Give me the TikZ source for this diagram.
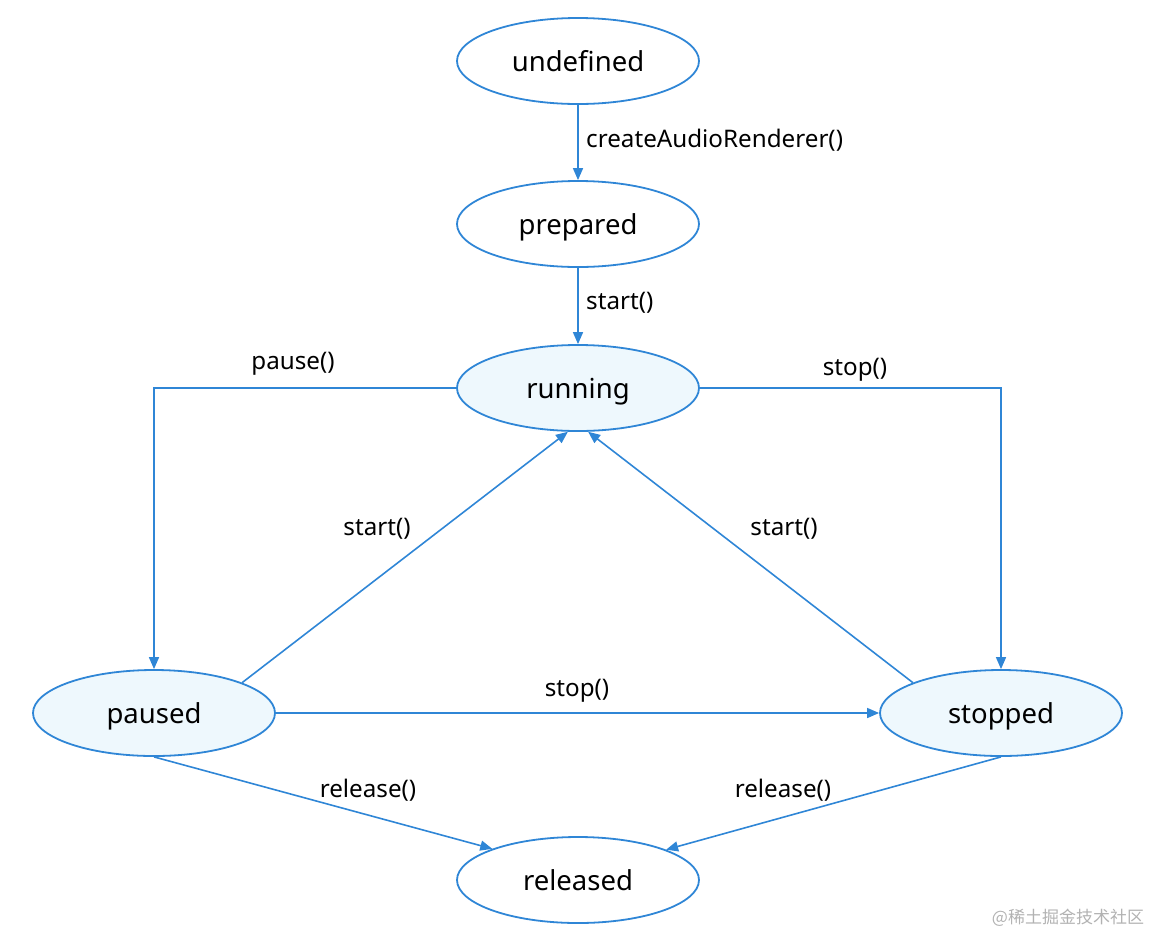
\documentclass[tikz,border=0pt]{standalone}
\usepackage{fontspec}
\setmainfont{Noto Sans}
\newfontfamily\cjk{Noto Sans CJK SC}
\usetikzlibrary{arrows.meta,shapes.geometric}
\definecolor{edgeblue}{HTML}{2F86D6}
\definecolor{statefill}{HTML}{EEF8FD}
\begin{document}
\begin{tikzpicture}[x=1pt,y=-1pt,
  state/.style={ellipse, draw=edgeblue, line width=1.8pt, minimum width=242pt, minimum height=86pt, inner sep=0pt, text height=23pt, text depth=3pt, font=\fontsize{27.5}{32}\selectfont},
  active/.style={state, fill=statefill},
  conn/.style={draw=edgeblue, line width=1.6pt, -{Triangle[length=12pt,width=10pt]}},
  lbl/.style={font=\fontsize{24.2}{28}\selectfont, inner sep=0pt}]
\useasboundingbox (0,0) rectangle (1156,938);
\node[state]  (undefined) at (578,61)  {undefined};
\node[state]  (prepared)  at (578,224) {prepared};
\node[active] (running)   at (578,388) {running};
\node[active] (paused)    at (154,713) {paused};
\node[active] (stopped)   at (1001,713) {stopped};
\node[state]  (released)  at (578,880) {released};

\draw[conn] (undefined) -- (prepared);
\draw[conn] (prepared) -- (running);
\draw[conn] (running.west) -| (paused.north);
\draw[conn] (running.east) -| (stopped.north);
\draw[conn] (paused.19) -- (running.257);
\draw[conn] (stopped.161) -- (running.283);
\draw[conn] (paused.east) -- (stopped.west);
\draw[conn] (paused.south) -- (released.160.6);
\draw[conn] (stopped.south) -- (released.19.4);

\node[lbl, anchor=west] (l1) at (586,140) {createAudioRenderer()};
\node[lbl, anchor=west] (l2) at (586,303) {start()};
\node[lbl] (l3) at (293,364) {pause()};
\node[lbl] (l4) at (855,370) {stop()};
\node[lbl] (l5) at (377,529) {start()};
\node[lbl] (l6) at (784,529) {start()};
\node[lbl] (l7) at (577,691) {stop()};
\node[lbl] (l8) at (368,790) {release()};
\node[lbl] (l9) at (783,790) {release()};
\node[font=\cjk\fontsize{17}{20}\selectfont, text=black!30, inner sep=0pt] (wm) at (1068,918) {@稀土掘金技术社区};
\end{tikzpicture}
\end{document}
